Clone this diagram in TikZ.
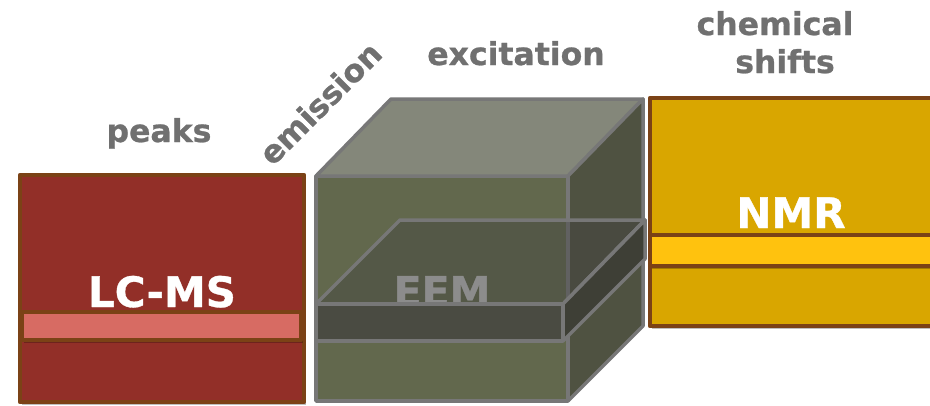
\documentclass[tikz,border=0pt]{standalone}
\usepackage{fontspec}
\setmainfont{DejaVu Sans}
\newfontfamily\heavyfont{DejaVu Sans Bold}[FakeBold=0.8]
\usetikzlibrary{shadows}
\definecolor{edgebrown}{HTML}{7B4216}
\definecolor{lcfill}{HTML}{922F28}
\definecolor{lcstripe}{HTML}{D76B63}
\definecolor{nmrfill}{HTML}{D9A600}
\definecolor{nmrstripe}{HTML}{FFC20E}
\definecolor{cubetop}{HTML}{84877A}
\definecolor{cubefront}{HTML}{62684D}
\definecolor{cuberight}{HTML}{4F5241}
\definecolor{cubeedge}{HTML}{777777}
\definecolor{slabfront}{HTML}{4A4B42}
\definecolor{slabright}{HTML}{3E3F36}
\definecolor{labelgray}{HTML}{707070}
\definecolor{eemgray}{HTML}{8C8C8C}
\tikzset{
  boxline/.style={draw=edgebrown, line width=4.5pt, line join=round},
  softshadow/.style={drop shadow={shadow xshift=1.5pt, shadow yshift=-3pt, opacity=0.25, fill=black}},
  cubeline/.style={draw=cubeedge, line width=3.5pt, line join=round},
  bigtext/.style={anchor=base, text=white, font=\fontsize{42}{42}\selectfont\heavyfont, inner sep=0pt},
  axislabel/.style={anchor=base, text=labelgray, font=\fontsize{31.5}{31.5}\selectfont\heavyfont, inner sep=0pt},
}
\begin{document}
\begin{tikzpicture}[x=1pt, y=-1pt]
\useasboundingbox (0,0) rectangle (930,405);

% LC-MS block with its highlighted band
\draw[boxline, fill=lcfill, softshadow] (20,175) rectangle (304,402);
\draw[boxline, fill=lcstripe, softshadow] (22,312) rectangle (301,340);
\node[bigtext] (lcms) at (162,307) {LC-MS};

% EEM cube
\draw[cubeline, fill=cubefront] (316,176) rectangle (568,401);
\draw[cubeline, fill=cubetop] (316,176) -- (391,99) -- (643,99) -- (568,176) -- cycle;
\draw[cubeline, fill=cuberight] (568,176) -- (643,99) -- (643,326) -- (568,401) -- cycle;

% translucent slice through the cube
\draw[cubeline, fill=black!75, fill opacity=0.4] (316,304) -- (400,220) -- (645,220) -- (563,304) -- cycle;
\node[anchor=base, text=eemgray, font=\fontsize{41}{41}\selectfont\heavyfont, inner sep=0pt] (eem) at (442,306) {EEM};
\draw[cubeline, fill=slabfront] (316,304) rectangle (563,341);
\draw[cubeline, fill=slabright] (563,304) -- (645,220) -- (645,259) -- (563,341) -- cycle;

% NMR block with its highlighted band
\draw[boxline, fill=nmrfill, softshadow] (650,98) rectangle (940,326);
\draw[boxline, fill=nmrstripe, softshadow] (650,235) rectangle (940,266);
\node[bigtext] (nmr) at (791,228) {NMR};

% axis labels
\node[axislabel] (peaks) at (159,142) {peaks};
\node[axislabel, anchor=center, rotate=45] (emission) at (320,103) {emission};
\node[axislabel] (excitation) at (516,65) {excitation};
\node[axislabel] (chem1) at (775,35) {chemical};
\node[axislabel] (chem2) at (785,73) {shifts};
\end{tikzpicture}
\end{document}
